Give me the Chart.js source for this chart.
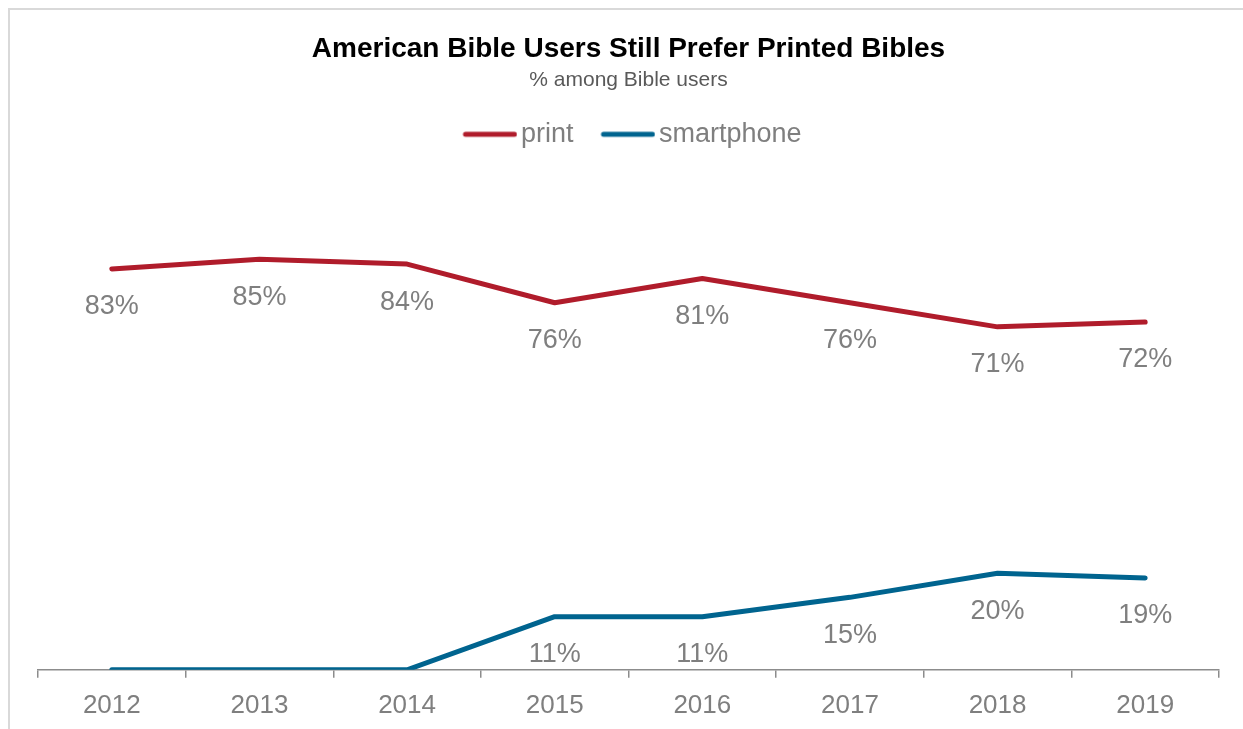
<!DOCTYPE html>
<html>
<head>
<meta charset="utf-8">
<script src="https://cdn.jsdelivr.net/npm/chart.js@4"></script>
<style>
    html, body { margin: 0; padding: 0; background: #fff; overflow: hidden; }
    body { width: 1243px; height: 729px; position: relative; }
    .frame {
        position: absolute; left: 8px; top: 8px;
        width: 1260px; height: 760px;
        border: 2px solid #d9d9d9;
    }
    .wrap { position: absolute; left: 8px; top: 0; width: 1243px; height: 742px; }
</style>
</head>
<body>
<div class="frame"></div>
<div class="wrap"><canvas id="bibleChart"></canvas></div>
<script>
// Survey years and share of Bible users per format (%)
const years = ['2012', '2013', '2014', '2015', '2016', '2017', '2018', '2019'];
const printShare = [83, 85, 84, 76, 81, 76, 71, 72];
const smartphoneShare = [0, 0, 0, 11, 11, 15, 20, 19];

const FONT = "'Liberation Sans', Arial, Helvetica, sans-serif";
const GREY = '#7f7f7f';
const RED = '#b01c2b';
const BLUE = '#00648f';

// Legend swatch: a thick round-capped line sitting close to its label
function lineSwatch(color) {
    const c = document.createElement('canvas');
    c.width = 64;
    c.height = 8;
    const g = c.getContext('2d');
    g.strokeStyle = color;
    g.lineWidth = 5;
    g.lineCap = 'round';
    g.beginPath();
    g.moveTo(12, 4);
    g.lineTo(61, 4);
    g.stroke();
    return c;
}
const swatches = [lineSwatch(RED), lineSwatch(BLUE)];

// Writes the percentage under each point (zero values are left unlabelled)
const valueLabels = {
    id: 'valueLabels',
    afterDatasetsDraw(chart) {
        const ctx = chart.ctx;
        ctx.save();
        ctx.font = '27px ' + FONT;
        ctx.fillStyle = GREY;
        ctx.textAlign = 'center';
        ctx.textBaseline = 'middle';
        chart.data.datasets.forEach((ds, i) => {
            chart.getDatasetMeta(i).data.forEach((pt, j) => {
                const v = ds.data[j];
                if (!v) return;
                ctx.fillText(v + '%', pt.x, pt.y + 38);
            });
        });
        ctx.restore();
    }
};

// Leave some room between the legend and the plot, and nudge it right a little
const legendTweak = {
    id: 'legendTweak',
    beforeInit(chart) {
        const legend = chart.legend;
        const fit = legend.fit;
        legend.fit = function () {
            fit.call(this);
            this.height += 29;
        };
        const draw = legend.draw;
        legend.draw = function () {
            this.ctx.save();
            this.ctx.translate(4, 0);
            draw.call(this);
            this.ctx.restore();
        };
    }
};

const ctx = document.getElementById('bibleChart').getContext('2d');
new Chart(ctx, {
    type: 'line',
    data: {
        labels: years,
        datasets: [
            {
                label: 'print',
                data: printShare,
                borderColor: RED,
                backgroundColor: RED,
                borderWidth: 5,
                borderCapStyle: 'round',
                borderJoinStyle: 'round',
                pointRadius: 0,
                tension: 0
            },
            {
                label: 'smartphone',
                data: smartphoneShare,
                borderColor: BLUE,
                backgroundColor: BLUE,
                borderWidth: 5,
                borderCapStyle: 'round',
                borderJoinStyle: 'round',
                pointRadius: 0,
                tension: 0
            }
        ]
    },
    options: {
        responsive: true,
        maintainAspectRatio: false,
        animation: false,
        layout: {
            padding: { left: 30, right: 32, top: 0, bottom: 9 }
        },
        plugins: {
            title: {
                display: true,
                text: 'American Bible Users Still Prefer Printed Bibles',
                color: '#000',
                font: { family: FONT, size: 28, weight: 'bold' },
                padding: { top: 32, bottom: 0 }
            },
            subtitle: {
                display: true,
                text: '% among Bible users',
                color: '#595959',
                font: { family: FONT, size: 21 },
                padding: { top: 2, bottom: 0 }
            },
            legend: {
                display: true,
                position: 'top',
                labels: {
                    usePointStyle: true,
                    pointStyleWidth: 44,
                    color: GREY,
                    font: { family: FONT, size: 27 },
                    padding: 28,
                    generateLabels(chart) {
                        const items = Chart.defaults.plugins.legend.labels.generateLabels(chart);
                        items.forEach((item, i) => { item.pointStyle = swatches[i]; });
                        return items;
                    }
                }
            },
            tooltip: { enabled: false }
        },
        scales: {
            x: {
                offset: true,
                grid: {
                    offset: true,
                    drawOnChartArea: false,
                    drawTicks: true,
                    tickLength: 8,
                    color: '#8c8c8c',
                    lineWidth: 1.5
                },
                border: { display: true, color: '#8c8c8c', width: 1.5 },
                ticks: {
                    color: GREY,
                    font: { family: FONT, size: 26 },
                    padding: 12
                }
            },
            y: {
                display: false,
                min: 0,
                max: 100
            }
        }
    },
    plugins: [valueLabels, legendTweak]
});
</script>
</body>
</html>
